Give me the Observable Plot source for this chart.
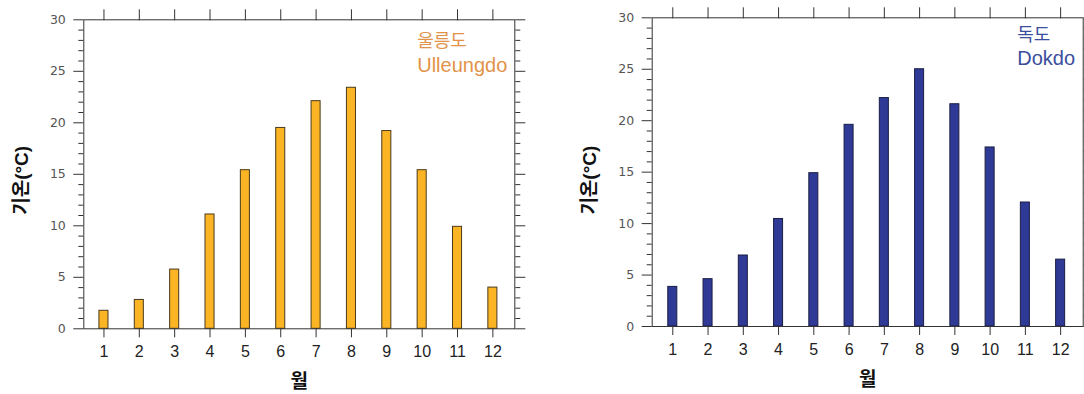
<!DOCTYPE html>
<html>
<head>
<meta charset="utf-8">
<script src="https://cdn.jsdelivr.net/npm/d3@7"></script>
<script src="https://cdn.jsdelivr.net/npm/@observablehq/plot@0.6"></script>
<style>
  html, body { margin: 0; padding: 0; background: #fff; }
  #wrap { position: relative; width: 1084px; height: 394px; overflow: hidden; }
  .panel { position: absolute; top: 0; }
  svg { overflow: visible; }
</style>
</head>
<body>
<div id="wrap">
  <div class="panel" id="left" style="left:0px"></div>
  <div class="panel" id="right" style="left:542px"></div>
</div>
<script>
// ---- data ----
const months = [1, 2, 3, 4, 5, 6, 7, 8, 9, 10, 11, 12];
const ulleungdoTemp = [1.75, 2.8, 5.75, 11.1, 15.4, 19.5, 22.1, 23.4, 19.2, 15.4, 9.9, 4.0];
const dokdoTemp = [3.85, 4.6, 6.9, 10.45, 14.9, 19.6, 22.2, 25.0, 21.6, 17.4, 12.05, 6.5];
const yMajorTicks = [0, 5, 10, 15, 20, 25, 30];
const yMinorTicks = d3.range(0, 31).filter(v => v % 5 !== 0);
const yLabel = "기온(°C)";
const xLabel = "월";
const ulleungdoNames = ["울릉도", "Ulleungdo"];
const dokdoNames = ["독도", "Dokdo"];

const FONT = "'Liberation Sans', Arial, 'Noto Sans CJK KR', sans-serif";
const FONT_WIDE = "'DejaVu Sans', 'Noto Sans CJK KR', sans-serif";

function makeChart(o) {
  const data = months.map((m, i) => ({month: m, temp: o.values[i]}));
  const half = 0.128;
  return Plot.plot({
    width: 542,
    height: 394,
    marginLeft: o.ml, marginRight: o.mr, marginTop: o.mt, marginBottom: o.mb,
    style: {fontFamily: FONT, background: "white", overflow: "visible"},
    x: {type: "linear", domain: o.xDomain, label: null},
    y: {domain: [0, 30], label: null},
    marks: [
      Plot.rectY(data, {x1: d => d.month - half, x2: d => d.month + half, y: "temp",
        fill: o.fill, stroke: o.stroke, strokeWidth: 1}),
      Plot.frame({stroke: "#333", strokeWidth: 1}),
      // bottom x axis
      Plot.axisX({anchor: "bottom", ticks: months, tickFormat: d => String(d), tickSize: 9, tickPadding: 8,
        fontSize: 16, fill: "#222", stroke: "#333", label: null}),
      Plot.axisX({anchor: "top", ticks: months, tickSize: 11, text: null, stroke: "#333", label: null}),
      // y axes left
      Plot.axisY({anchor: "left", ticks: yMajorTicks, tickSize: 10, tickPadding: 8,
        fontSize: 12.5, fontFamily: FONT_WIDE, fill: "#555", stroke: "#333", label: null}),
      Plot.axisY({anchor: "left", ticks: yMinorTicks, tickSize: 5, text: null, stroke: "#333", label: null}),
      // y axes right
      Plot.axisY({anchor: "right", ticks: yMajorTicks, tickSize: 10, text: null, stroke: "#333", label: null}),
      Plot.axisY({anchor: "right", ticks: yMinorTicks, tickSize: 5, text: null, stroke: "#333", label: null}),
      // axis titles
      Plot.text([yLabel], {frameAnchor: "left", dx: o.ylabDx, dy: o.ylabDy, rotate: -90,
        fontSize: 19, fontWeight: "bold", fill: "#111", textAnchor: "middle", lineAnchor: "middle"}),
      Plot.text([xLabel], {frameAnchor: "bottom", dy: 53, fontSize: 19, fontWeight: "bold",
        fill: "#111", lineAnchor: "middle"}),
      // legend names
      Plot.text([o.names[0]], {frameAnchor: "top-right", dx: o.legDx, dy: o.legY1, textAnchor: "start",
        lineAnchor: "middle", fontSize: 18, fill: o.textColor}),
      Plot.text([o.names[1]], {frameAnchor: "top-right", dx: o.legDx, dy: o.legY2, textAnchor: "start",
        lineAnchor: "middle", fontSize: 20, fill: o.textColor})
    ]
  });
}

document.getElementById("left").appendChild(makeChart({
  values: ulleungdoTemp, fill: "#FBB424", stroke: "#4a3a1c", textColor: "#E2934A",
  names: ulleungdoNames,
  ml: 83.3, mr: 542 - 514.3, mt: 19.3, mb: 394 - 328.3,
  xDomain: [0.43, 12.62],
  ylabDx: -62, ylabDy: 6,
  legDx: -97.6, legY1: 21.5, legY2: 46
}));

document.getElementById("right").appendChild(makeChart({
  values: dokdoTemp, fill: "#2E3A96", stroke: "#1a1d45", textColor: "#3B4E9E",
  names: dokdoNames,
  ml: 651.7 - 542, mr: 542 - (1082.7 - 542), mt: 17.3, mb: 394 - 326,
  xDomain: [0.416, 12.64],
  ylabDx: -62.7, ylabDy: 8,
  legDx: -66, legY1: 17.5, legY2: 41
}));
</script>
</body>
</html>
